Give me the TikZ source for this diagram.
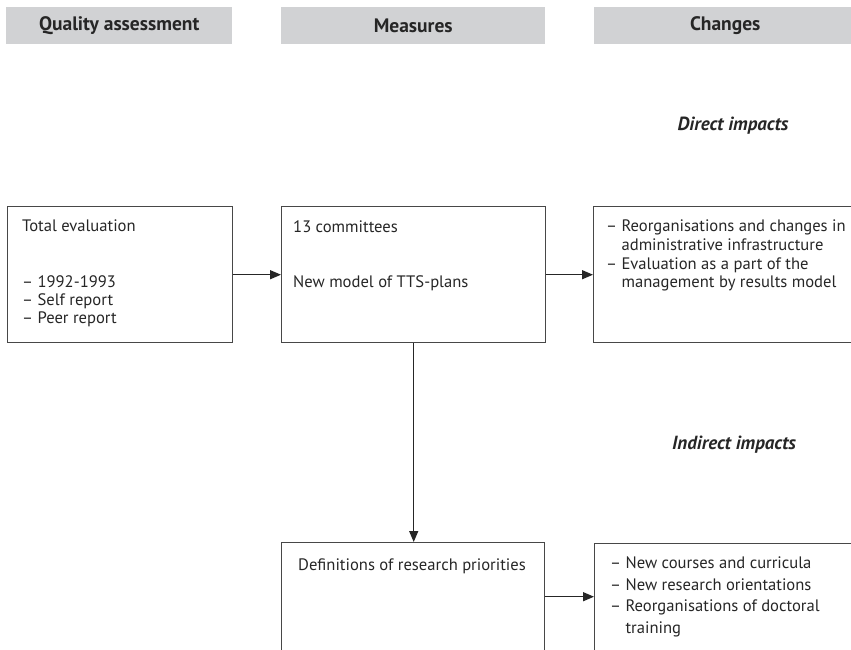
\documentclass[tikz,border=0pt]{standalone}
\usepackage{fontspec}
\setmainfont{PT Sans}
\usetikzlibrary{arrows.meta}
\definecolor{headgray}{HTML}{D1D2D4}
\definecolor{inkgray}{HTML}{262626}
\begin{document}
\begin{tikzpicture}[
    x=1pt, y=-1pt,
    header/.style={
        fill=headgray,
        minimum height=37pt,
        inner sep=0pt,
        anchor=north west,
        text=inkgray,
        font=\bfseries\fontsize{19.5}{22}\selectfont
    },
    box/.style={
        draw=inkgray!85,
        line width=1.4pt,
        anchor=north west,
        inner sep=0pt,
        minimum height=136pt
    },
    boxtext/.style={
        anchor=north west,
        inner sep=0pt,
        align=left,
        text=inkgray,
        font=\fontsize{16.6}{18}\selectfont
    },
    impact/.style={
        text=inkgray,
        font=\bfseries\itshape\fontsize{19}{22}\selectfont
    },
    arrow/.style={
        draw=inkgray,
        line width=1.4pt,
        -{Triangle[length=11pt,width=9pt]}
    }
]
\useasboundingbox (0,0) rectangle (851,649);

% Koppen
\node[header, minimum width=226pt] (hqual) at (6,7) {Quality assessment};
\node[header, minimum width=264pt] (hmeas) at (281,7) {Measures};
\node[header, minimum width=262pt] (hchg) at (594,7) {Changes};

% Impacts
\node[impact] (ldirect) at (733,126) {Direct impacts};
\node[impact] (lindirect) at (734,445) {Indirect impacts};

% Blokken
\node[box, minimum width=225pt] (eval) at (7,206) {};
\node[box, minimum width=264pt] (meas) at (281,206) {};
\node[box, minimum width=262pt] (direct) at (593,206) {};
\node[box, minimum width=263pt, minimum height=108pt] (prio) at (281,542) {};
\node[box, minimum width=262pt, minimum height=107pt] (indirect) at (594,543) {};

% Teksten
\node[boxtext] (teval) at (22,218.9) {\strut Total evaluation};
\node[boxtext] (tyears) at (22,274.9)
    {\strut -- 1992-1993\\-- Self report\\-- Peer report};

\node[boxtext] (tcomm) at (293,219.9) {\strut 13 committees};
\node[boxtext] (tmodel) at (293,274.9) {\strut New model of TTS-plans};

\node[boxtext, font=\fontsize{16.6}{18.7}\selectfont] (tdirect) at (606,218.5)
    {\strut -- Reorganisations and changes in\\
     \hphantom{-- }administrative infrastructure\\
     -- Evaluation as a part of the\\
     \hphantom{-- }management by results model};

\node[boxtext] (tprio) at (298,557.9) {\strut Definitions of research priorities};

\node[boxtext, font=\fontsize{16.6}{21.5}\selectfont] (tindirect) at (610,553.5)
    {\strut -- New courses and curricula\\
     -- New research orientations\\
     -- Reorganisations of doctoral\\
     \hphantom{-- }training};

% Pijlen
\draw[arrow] (eval) -- (meas);
\draw[arrow] (meas) -- (direct);
\draw[arrow] (meas.south) -- (meas.south |- prio.north);
\draw[arrow] (prio.east) -- (prio.east -| indirect.west);

\end{tikzpicture}
\end{document}
